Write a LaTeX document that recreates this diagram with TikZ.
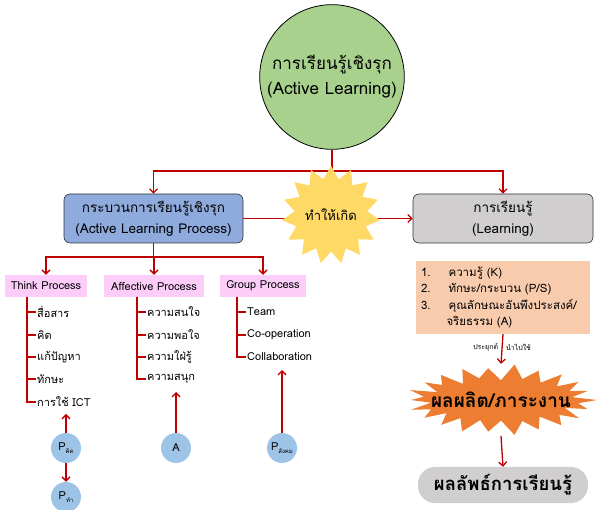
\documentclass[tikz,border=0pt]{standalone}
\usepackage{fontspec}
\setmainfont[Script=Thai]{Loma}
\usepackage{tikz}
\usetikzlibrary{positioning, calc, arrows.meta, shapes.geometric}
\definecolor{myred}{HTML}{C00000}
\definecolor{mygreen}{HTML}{A9D18E}
\definecolor{myblue}{HTML}{8FAADC}
\definecolor{mygray}{HTML}{D0CECE}
\definecolor{mypink}{HTML}{FCCDF8}
\definecolor{mypeach}{HTML}{F8CBAD}
\definecolor{myorange}{HTML}{ED7D31}
\definecolor{myyellow}{HTML}{FFD966}
\definecolor{mycirc}{HTML}{9DC3E6}
\tikzset{
	redline/.style={draw=myred, line width=1.3pt},
	arr/.style={redline, -{Straight Barb[length=4pt,width=8pt]}},
	bigbox/.style={draw=black!80, rounded corners=6pt, line width=0.6pt, minimum width=179pt, minimum height=49pt, align=center, font=\fontsize{13.5}{21}\selectfont},
	procbox/.style={fill=mypink, minimum height=22pt, font=\fontsize{11}{13}\selectfont},
	item/.style={anchor=west, inner sep=1pt, font=\fontsize{11}{13}\selectfont},
	pcirc/.style={circle, fill=mycirc, minimum size=30pt, inner sep=0pt, font=\fontsize{11}{12}\selectfont},
	sub/.style={font=\fontsize{6}{6}\selectfont},
}
\newcommand{\psub}[1]{P\raisebox{-3pt}{\fontsize{6}{6}\selectfont #1}}
\begin{document}
\begin{tikzpicture}[x=1pt, y=-1pt]
	\useasboundingbox (0,0) rectangle (600,510);
	% top
	\node[circle, draw=black, line width=0.8pt, fill=mygreen, minimum size=144pt, align=center, font=\fontsize{17}{25}\selectfont] (active) at (332,77) {การเรียนรู้เชิงรุก\\(Active Learning)};
	\node[bigbox, fill=myblue] (process) at (153.5,218.5) {กระบวนการเรียนรู้เชิงรุก\\(Active Learning Process)};
	\node[bigbox, fill=mygray, minimum width=180pt] (learn) at (503,218.5) {การเรียนรู้\\(Learning)};
	\coordinate (split) at (332,171);
	\draw[redline] (active.south) -- (split);
	\draw[arr] (split) -| (process.north);
	\draw[arr] (split) -| (learn.north);
	\draw[arr] (process.east) -- (learn.west);
	\node[star, star points=15, star point ratio=1.35, fill=myyellow, minimum size=74pt, inner sep=0pt, font=\fontsize{13}{14}\selectfont] (cause) at (331,215) {ทำให้เกิด};
	% three processes
	\node[procbox, minimum width=82pt] (think) at (46,286) {Think Process};
	\node[procbox, minimum width=100pt] (affect) at (154,286) {Affective Process};
	\node[procbox, minimum width=86pt] (group) at (263,286) {Group Process};
	\coordinate (split2) at (153.5,257);
	\draw[redline] (process.south) -- (split2);
	\draw[arr] (split2) -| (think.north);
	\draw[arr] (split2) -| (affect.north);
	\draw[arr] (split2) -| (group.north);
	% think items
	\coordinate (tk) at (27,297);
	\node[item] (t1) at (36,312) {สื่อสาร};
	\node[item] (t2) at (36,335) {คิด};
	\node[item] (t3) at (36,357) {แก้ปัญหา};
	\node[item] (t4) at (36,379) {ทักษะ};
	\node[item] (t5) at (36,402) {การใช้ ICT};
	\foreach \n in {t1,t2,t3,t4,t5}
		\draw[redline] (tk) |- (\n.west);
	% affective items
	\coordinate (af) at (137,297);
	\node[item] (a1) at (146,312) {ความสนใจ};
	\node[item] (a2) at (146,335) {ความพอใจ};
	\node[item] (a3) at (146,357) {ความใฝ่รู้};
	\node[item] (a4) at (146,379) {ความสนุก};
	\foreach \n in {a1,a2,a3,a4}
		\draw[redline] (af) |- (\n.west);
	% group items
	\coordinate (gr) at (237,297);
	\node[item] (g1) at (246,312) {Team};
	\node[item] (g2) at (246,335) {Co-operation};
	\node[item] (g3) at (246,357) {Collaboration};
	\foreach \n in {g1,g2,g3}
		\draw[redline] (gr) |- (\n.west);
	% circles
	\node[pcirc] (pthink) at (66,448) {\psub{คิด}};
	\node[pcirc] (pdo) at (66,497) {\psub{ทำ}};
	\node[pcirc] (pa) at (176,448) {A};
	\node[pcirc] (psoc) at (282,448) {\psub{สังคม}};
	\coordinate (tkend) at (66,414);
	\coordinate (afend) at (176,392);
	\coordinate (grend) at (282,370);
	\draw[arr] (pthink.north) -- (tkend);
	\draw[arr] (pthink.south) -- (pdo.north);
	\draw[arr] (pa.north) -- (afend);
	\draw[arr] (psoc.north) -- (grend);
	% right side
	\node[fill=mypeach, minimum width=174pt, minimum height=73pt, text width=164pt, inner xsep=5pt, align=left, font=\fontsize{11.5}{16.5}\selectfont] (goal) at (503,297.5) {1.\hspace{18pt}ความรู้ (K)\\2.\hspace{18pt}ทักษะ/กระบวน (P/S)\\3.\hspace{18pt}คุณลักษณะอันพึงประสงค์/\\\hspace{25.5pt}จริยธรรม (A)};
	\node[minimum width=192pt, minimum height=72pt, inner sep=0pt] (work) at (501,400) {};
	\fill[myorange] ($(work.center)+(0:96 and 30)$)
		\foreach \i in {1,...,43} {
			-- ($(work.center)+({\i*360/44}:{(isodd(\i) ? 74+4*sin(\i*97) : 96-6*abs(sin(\i*53)))} and {(isodd(\i) ? 21+2*sin(\i*97) : 36-4*abs(sin(\i*53)))})$)
		} -- cycle;
	\node[font=\bfseries\fontsize{19}{22}\selectfont] (worktext) at (work.center) {ผลผลิต/ภาระงาน};
	\node[rounded corners=17pt, fill=mygray, minimum width=170pt, minimum height=36pt, font=\bfseries\fontsize{18.5}{20}\selectfont] (result) at (503,485) {ผลลัพธ์การเรียนรู้};
	\draw[arr] (goal.south) -- (work.north) node[pos=0.45, left, font=\fontsize{7}{8}\selectfont] {ประยุกต์} node[pos=0.45, right, font=\fontsize{7}{8}\selectfont] {นำไปใช้};
	\draw[arr] (work.south) -- (result.north);
\end{tikzpicture}
\end{document}
